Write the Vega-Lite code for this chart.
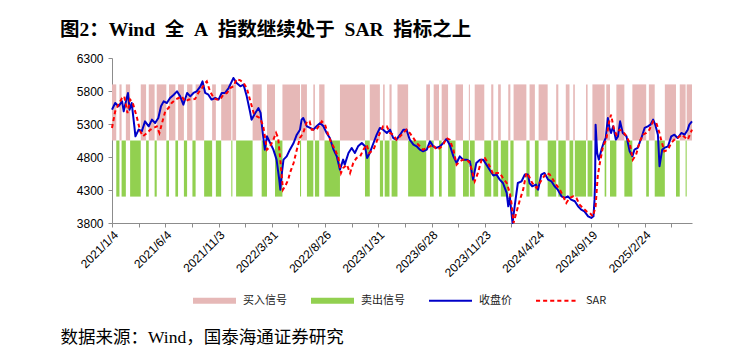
{
  "$schema": "https://vega.github.io/schema/vega-lite/v6.json",
  "autosize": "none",
  "width": 580,
  "height": 165,
  "padding": {"left": 112, "top": 58, "right": 52, "bottom": 129},
  "background": "white",
  "title": {
    "text": "图2：Wind\u2002全\u2002A\u2002指数继续处于\u2002SAR\u2002指标之上",
    "anchor": "start",
    "frame": "group",
    "dx": -52,
    "dy": 5,
    "offset": 17,
    "font": "Liberation Serif, Noto Sans CJK SC",
    "fontSize": 19.5,
    "fontWeight": "bold",
    "color": "black"
  },
  "config": {
    "view": {"stroke": null},
    "axis": {
      "labelFont": "Liberation Sans",
      "labelFontSize": 12,
      "labelColor": "black",
      "domainColor": "#8c8c8c",
      "tickColor": "#8c8c8c",
      "tickSize": 4,
      "grid": false,
      "labelOverlap": false
    }
  },
  "datasets": {
    "close": [
      {"i":0,"v":5517},{"i":6,"v":5618},{"i":12,"v":5568},{"i":19,"v":5643},{"i":22,"v":5492},{"i":27,"v":5670},{"i":30,"v":5770},{"i":33,"v":5517},{"i":37,"v":5618},{"i":42,"v":5265},{"i":44,"v":5113},{"i":50,"v":5215},{"i":56,"v":5190},{"i":62,"v":5340},{"i":69,"v":5265},{"i":75,"v":5366},{"i":81,"v":5315},{"i":87,"v":5391},{"i":92,"v":5568},{"i":97,"v":5643},{"i":103,"v":5618},{"i":109,"v":5694},{"i":116,"v":5744},{"i":122,"v":5795},{"i":128,"v":5719},{"i":134,"v":5593},{"i":141,"v":5770},{"i":147,"v":5719},{"i":153,"v":5770},{"i":159,"v":5795},{"i":166,"v":5871},{"i":170,"v":5946},{"i":175,"v":5770},{"i":181,"v":5744},{"i":187,"v":5670},{"i":194,"v":5694},{"i":200,"v":5670},{"i":206,"v":5770},{"i":212,"v":5770},{"i":219,"v":5845},{"i":225,"v":5946},{"i":228,"v":5997},{"i":234,"v":5921},{"i":241,"v":5871},{"i":247,"v":5896},{"i":253,"v":5719},{"i":259,"v":5492},{"i":262,"v":5366},{"i":269,"v":5467},{"i":275,"v":5542},{"i":279,"v":5467},{"i":283,"v":5164},{"i":287,"v":4911},{"i":291,"v":5113},{"i":297,"v":5012},{"i":303,"v":4911},{"i":309,"v":4760},{"i":314,"v":4457},{"i":316,"v":4305},{"i":319,"v":4558},{"i":322,"v":4760},{"i":328,"v":4810},{"i":334,"v":4911},{"i":341,"v":5012},{"i":347,"v":5138},{"i":353,"v":5214},{"i":356,"v":5366},{"i":359,"v":5391},{"i":366,"v":5265},{"i":372,"v":5240},{"i":378,"v":5214},{"i":384,"v":5265},{"i":391,"v":5315},{"i":397,"v":5265},{"i":403,"v":5164},{"i":409,"v":5088},{"i":416,"v":4911},{"i":422,"v":4810},{"i":428,"v":4608},{"i":434,"v":4760},{"i":437,"v":4684},{"i":444,"v":4861},{"i":450,"v":4937},{"i":456,"v":4861},{"i":462,"v":4962},{"i":469,"v":5012},{"i":475,"v":4962},{"i":479,"v":4785},{"i":484,"v":4861},{"i":491,"v":5012},{"i":497,"v":5138},{"i":503,"v":5240},{"i":509,"v":5214},{"i":516,"v":5164},{"i":522,"v":5214},{"i":528,"v":5088},{"i":534,"v":5063},{"i":541,"v":5138},{"i":547,"v":5214},{"i":553,"v":5214},{"i":559,"v":5063},{"i":566,"v":4987},{"i":572,"v":4962},{"i":578,"v":4911},{"i":584,"v":4886},{"i":591,"v":4911},{"i":597,"v":5037},{"i":603,"v":4962},{"i":609,"v":4937},{"i":616,"v":4962},{"i":622,"v":5012},{"i":628,"v":5073},{"i":634,"v":4987},{"i":641,"v":4810},{"i":647,"v":4709},{"i":653,"v":4810},{"i":659,"v":4760},{"i":666,"v":4760},{"i":672,"v":4734},{"i":678,"v":4457},{"i":684,"v":4709},{"i":691,"v":4760},{"i":697,"v":4760},{"i":703,"v":4684},{"i":709,"v":4608},{"i":716,"v":4520},{"i":722,"v":4533},{"i":728,"v":4457},{"i":734,"v":4406},{"i":741,"v":4255},{"i":744,"v":4053},{"i":747,"v":4204},{"i":750,"v":3952},{"i":752,"v":3800},{"i":756,"v":4053},{"i":762,"v":4406},{"i":769,"v":4432},{"i":775,"v":4533},{"i":781,"v":4533},{"i":784,"v":4406},{"i":789,"v":4356},{"i":796,"v":4381},{"i":800,"v":4305},{"i":806,"v":4533},{"i":812,"v":4558},{"i":819,"v":4457},{"i":825,"v":4432},{"i":831,"v":4356},{"i":837,"v":4305},{"i":844,"v":4204},{"i":850,"v":4179},{"i":856,"v":4204},{"i":862,"v":4154},{"i":869,"v":4129},{"i":875,"v":4053},{"i":881,"v":4002},{"i":887,"v":3977},{"i":894,"v":3901},{"i":900,"v":3876},{"i":904,"v":3901},{"i":906,"v":4150},{"i":907,"v":4400},{"i":908,"v":5290},{"i":911,"v":4861},{"i":914,"v":4760},{"i":919,"v":4911},{"i":923,"v":5012},{"i":927,"v":5088},{"i":931,"v":5391},{"i":934,"v":5240},{"i":937,"v":5164},{"i":941,"v":5265},{"i":946,"v":5063},{"i":950,"v":5113},{"i":954,"v":5340},{"i":959,"v":5164},{"i":966,"v":5113},{"i":972,"v":4886},{"i":977,"v":4810},{"i":981,"v":4911},{"i":987,"v":4937},{"i":994,"v":5088},{"i":1000,"v":5240},{"i":1006,"v":5265},{"i":1011,"v":5290},{"i":1016,"v":5366},{"i":1020,"v":5290},{"i":1025,"v":5138},{"i":1028,"v":4659},{"i":1033,"v":4911},{"i":1037,"v":4937},{"i":1044,"v":4962},{"i":1050,"v":5113},{"i":1056,"v":5138},{"i":1062,"v":5088},{"i":1069,"v":5164},{"i":1075,"v":5138},{"i":1081,"v":5214},{"i":1084,"v":5290},{"i":1089,"v":5340}
    ],
    "sar": [
      {"i":0,"v":5240},{"i":6,"v":5492},{"i":12,"v":5593},{"i":19,"v":5694},{"i":23,"v":5719},{"i":29,"v":5467},{"i":34,"v":5670},{"i":39,"v":5618},{"i":47,"v":5391},{"i":53,"v":5190},{"i":58,"v":5113},{"i":66,"v":5164},{"i":72,"v":5214},{"i":78,"v":5240},{"i":84,"v":5265},{"i":89,"v":5164},{"i":94,"v":5315},{"i":100,"v":5492},{"i":106,"v":5542},{"i":112,"v":5618},{"i":119,"v":5670},{"i":125,"v":5694},{"i":131,"v":5719},{"i":137,"v":5643},{"i":144,"v":5670},{"i":150,"v":5670},{"i":156,"v":5680},{"i":162,"v":5770},{"i":169,"v":5845},{"i":175,"v":5921},{"i":178,"v":5946},{"i":184,"v":5795},{"i":191,"v":5694},{"i":197,"v":5670},{"i":203,"v":5670},{"i":209,"v":5744},{"i":216,"v":5770},{"i":222,"v":5845},{"i":228,"v":5871},{"i":234,"v":5982},{"i":241,"v":5960},{"i":247,"v":5921},{"i":253,"v":5845},{"i":259,"v":5670},{"i":266,"v":5467},{"i":272,"v":5416},{"i":278,"v":5391},{"i":284,"v":5265},{"i":291,"v":4911},{"i":297,"v":4962},{"i":303,"v":5063},{"i":308,"v":5164},{"i":312,"v":5088},{"i":316,"v":4760},{"i":321,"v":4305},{"i":325,"v":4356},{"i":331,"v":4457},{"i":334,"v":4558},{"i":341,"v":4709},{"i":347,"v":4911},{"i":353,"v":5088},{"i":359,"v":5164},{"i":366,"v":5340},{"i":371,"v":5340},{"i":375,"v":5214},{"i":384,"v":5214},{"i":394,"v":5340},{"i":400,"v":5290},{"i":406,"v":5138},{"i":412,"v":5012},{"i":419,"v":4911},{"i":425,"v":4785},{"i":430,"v":4558},{"i":434,"v":4633},{"i":441,"v":4684},{"i":447,"v":4558},{"i":453,"v":4709},{"i":459,"v":4785},{"i":466,"v":4810},{"i":472,"v":4911},{"i":478,"v":4987},{"i":483,"v":4861},{"i":491,"v":4911},{"i":497,"v":5037},{"i":503,"v":5164},{"i":509,"v":5265},{"i":516,"v":5265},{"i":522,"v":5164},{"i":528,"v":5138},{"i":534,"v":5063},{"i":541,"v":5113},{"i":547,"v":5164},{"i":553,"v":5214},{"i":559,"v":5164},{"i":566,"v":5088},{"i":572,"v":5012},{"i":578,"v":4962},{"i":584,"v":4911},{"i":591,"v":4937},{"i":597,"v":4962},{"i":603,"v":4987},{"i":609,"v":4911},{"i":616,"v":4937},{"i":622,"v":4987},{"i":628,"v":5088},{"i":634,"v":5063},{"i":641,"v":4911},{"i":647,"v":4684},{"i":653,"v":4734},{"i":659,"v":4760},{"i":666,"v":4760},{"i":672,"v":4709},{"i":681,"v":4432},{"i":687,"v":4558},{"i":694,"v":4760},{"i":700,"v":4785},{"i":706,"v":4709},{"i":712,"v":4608},{"i":716,"v":4533},{"i":722,"v":4558},{"i":728,"v":4558},{"i":734,"v":4482},{"i":741,"v":4406},{"i":747,"v":4255},{"i":750,"v":4103},{"i":754,"v":3800},{"i":759,"v":3952},{"i":766,"v":4154},{"i":772,"v":4305},{"i":778,"v":4558},{"i":783,"v":4507},{"i":789,"v":4406},{"i":797,"v":4330},{"i":803,"v":4406},{"i":809,"v":4482},{"i":816,"v":4558},{"i":822,"v":4533},{"i":828,"v":4457},{"i":834,"v":4381},{"i":841,"v":4305},{"i":847,"v":4204},{"i":853,"v":4103},{"i":859,"v":4179},{"i":866,"v":4204},{"i":872,"v":4179},{"i":878,"v":4078},{"i":884,"v":4027},{"i":891,"v":3977},{"i":897,"v":3952},{"i":903,"v":3901},{"i":908,"v":4053},{"i":912,"v":4507},{"i":916,"v":4709},{"i":922,"v":4962},{"i":928,"v":5063},{"i":933,"v":5315},{"i":937,"v":5441},{"i":942,"v":5240},{"i":947,"v":5138},{"i":953,"v":5214},{"i":959,"v":5190},{"i":966,"v":5113},{"i":972,"v":5012},{"i":978,"v":4760},{"i":984,"v":4836},{"i":991,"v":5037},{"i":997,"v":5138},{"i":1003,"v":5164},{"i":1009,"v":5214},{"i":1016,"v":5340},{"i":1022,"v":5315},{"i":1027,"v":5190},{"i":1031,"v":5063},{"i":1037,"v":4886},{"i":1044,"v":4911},{"i":1050,"v":5012},{"i":1056,"v":5063},{"i":1062,"v":5088},{"i":1069,"v":5138},{"i":1075,"v":5102},{"i":1081,"v":5063},{"i":1089,"v":5214}
    ],
    "sig": [
      {"s":0,"e":8,"t":"买入信号"},{"s":8,"e":14,"t":"卖出信号"},{"s":14,"e":18,"t":"买入信号"},{"s":18,"e":26,"t":"卖出信号"},{"s":26,"e":34,"t":"买入信号"},{"s":34,"e":54,"t":"卖出信号"},{"s":54,"e":64,"t":"买入信号"},{"s":64,"e":69,"t":"卖出信号"},{"s":69,"e":80,"t":"买入信号"},{"s":80,"e":84,"t":"卖出信号"},{"s":84,"e":102,"t":"买入信号"},{"s":102,"e":107,"t":"卖出信号"},{"s":107,"e":119,"t":"买入信号"},{"s":119,"e":124,"t":"卖出信号"},{"s":124,"e":135,"t":"买入信号"},{"s":135,"e":141,"t":"卖出信号"},{"s":141,"e":151,"t":"买入信号"},{"s":151,"e":157,"t":"卖出信号"},{"s":157,"e":173,"t":"买入信号"},{"s":173,"e":188,"t":"卖出信号"},{"s":188,"e":195,"t":"买入信号"},{"s":195,"e":205,"t":"卖出信号"},{"s":205,"e":224,"t":"买入信号"},{"s":224,"e":226,"t":"卖出信号"},{"s":226,"e":233,"t":"买入信号"},{"s":233,"e":264,"t":"卖出信号"},{"s":264,"e":281,"t":"买入信号"},{"s":281,"e":291,"t":"卖出信号"},{"s":291,"e":306,"t":"买入信号"},{"s":306,"e":320,"t":"卖出信号"},{"s":320,"e":353,"t":"买入信号"},{"s":353,"e":355,"t":"卖出信号"},{"s":355,"e":366,"t":"买入信号"},{"s":366,"e":378,"t":"卖出信号"},{"s":378,"e":381,"t":"买入信号"},{"s":381,"e":389,"t":"卖出信号"},{"s":389,"e":399,"t":"买入信号"},{"s":399,"e":428,"t":"卖出信号"},{"s":428,"e":475,"t":"买入信号"},{"s":475,"e":484,"t":"卖出信号"},{"s":484,"e":503,"t":"买入信号"},{"s":503,"e":509,"t":"卖出信号"},{"s":509,"e":512,"t":"买入信号"},{"s":512,"e":521,"t":"卖出信号"},{"s":521,"e":525,"t":"买入信号"},{"s":525,"e":536,"t":"卖出信号"},{"s":536,"e":556,"t":"买入信号"},{"s":556,"e":590,"t":"卖出信号"},{"s":590,"e":597,"t":"买入信号"},{"s":597,"e":604,"t":"卖出信号"},{"s":604,"e":614,"t":"买入信号"},{"s":614,"e":619,"t":"卖出信号"},{"s":619,"e":631,"t":"买入信号"},{"s":631,"e":645,"t":"卖出信号"},{"s":645,"e":659,"t":"买入信号"},{"s":659,"e":670,"t":"卖出信号"},{"s":670,"e":672,"t":"买入信号"},{"s":672,"e":681,"t":"卖出信号"},{"s":681,"e":699,"t":"买入信号"},{"s":699,"e":712,"t":"卖出信号"},{"s":712,"e":716,"t":"买入信号"},{"s":716,"e":725,"t":"卖出信号"},{"s":725,"e":730,"t":"买入信号"},{"s":730,"e":744,"t":"卖出信号"},{"s":744,"e":748,"t":"买入信号"},{"s":748,"e":754,"t":"卖出信号"},{"s":754,"e":778,"t":"买入信号"},{"s":778,"e":784,"t":"卖出信号"},{"s":784,"e":794,"t":"买入信号"},{"s":794,"e":801,"t":"卖出信号"},{"s":801,"e":818,"t":"买入信号"},{"s":818,"e":834,"t":"卖出信号"},{"s":834,"e":838,"t":"买入信号"},{"s":838,"e":852,"t":"卖出信号"},{"s":852,"e":859,"t":"买入信号"},{"s":859,"e":866,"t":"卖出信号"},{"s":866,"e":869,"t":"买入信号"},{"s":869,"e":890,"t":"卖出信号"},{"s":890,"e":893,"t":"买入信号"},{"s":893,"e":902,"t":"卖出信号"},{"s":902,"e":925,"t":"买入信号"},{"s":925,"e":928,"t":"卖出信号"},{"s":928,"e":935,"t":"买入信号"},{"s":935,"e":947,"t":"卖出信号"},{"s":947,"e":962,"t":"买入信号"},{"s":962,"e":977,"t":"卖出信号"},{"s":977,"e":1003,"t":"买入信号"},{"s":1003,"e":1008,"t":"卖出信号"},{"s":1008,"e":1019,"t":"买入信号"},{"s":1019,"e":1038,"t":"卖出信号"},{"s":1038,"e":1059,"t":"买入信号"},{"s":1059,"e":1066,"t":"卖出信号"},{"s":1066,"e":1077,"t":"买入信号"},{"s":1077,"e":1079,"t":"卖出信号"},{"s":1079,"e":1089,"t":"买入信号"}
    ]
  },
  "layer": [
    {
      "data": {"name": "sig"},
      "transform": [{"filter": "datum.t == '买入信号'"}],
      "mark": {"type": "bar"},
      "encoding": {
        "x": {
          "field": "s", "type": "quantitative",
          "scale": {"domain": [0, 1089], "nice": false, "zero": false},
          "axis": {
            "values": [0,50,100,150,200,250,300,350,400,450,500,550,600,650,700,750,800,850,900,950,1000,1050],
            "tickCount": 40,
            "labelExpr": "datum.value % 100 == 0 ? ['2021/1/4','2021/6/4','2021/11/3','2022/3/31','2022/8/26','2023/1/31','2023/6/28','2023/11/23','2024/4/24','2024/9/19','2025/2/24'][datum.value/100] : ''",
            "labelAngle": -45,
            "labelOverlap": false,
            "labelBound": false,
            "labelFlush": false,
            "labelPadding": 2,
            "title": "数据来源：Wind，国泰海通证券研究",
            "titleFont": "Liberation Serif, Noto Sans CJK SC",
            "titleFontSize": 17.5,
            "titleFontWeight": "normal",
            "titleColor": "black",
            "titleAnchor": "start",
            "titleAlign": "left",
            "titleBaseline": "middle",
            "titleX": -52,
            "titleY": 114
          }
        },
        "x2": {"field": "e"},
        "y": {
          "datum": 5900, "type": "quantitative",
          "scale": {"domain": [3800, 6300], "nice": false, "zero": false},
          "axis": {"values": [3800,4300,4800,5300,5800,6300], "tickCount": 12, "format": "d", "labelOverlap": false, "title": null, "labelPadding": 5}
        },
        "y2": {"datum": 5050},
        "color": {
          "field": "t", "type": "nominal",
          "scale": {"domain": ["买入信号","卖出信号","收盘价","SAR"], "range": ["#E6B8B7","#92D050","#0000C8","#FF0000"]},
          "legend": {
            "orient": "none",
            "legendX": 81,
            "legendY": 221,
            "direction": "horizontal",
            "title": null,
            "symbolType": "square",
            "symbolSize": 1849,
            "symbolStrokeWidth": 0,
            "labelFont": "Noto Sans CJK SC",
            "labelFontSize": 11,
            "labelColor": "#222",
            "labelOffset": 7,
            "columnPadding": 24,
            "labelLimit": 200,
            "encode": {
              "symbols": {
                "update": {
                  "size": {"value": 1849},
                  "strokeWidth": {"value": 0},
                  "stroke": {"value": "transparent"},
                  "opacity": {"value": 1},
                  "fillOpacity": {"value": 1},
                  "fill": {"signal": "datum.value == '买入信号' ? '#E6B8B7' : datum.value == '卖出信号' ? '#92D050' : datum.value == '收盘价' ? '#0000C8' : '#FF0000'"},
                  "shape": {"signal": "datum.value == 'SAR' ? 'M-1,-0.05H-0.81V0.05H-1Z M-0.67,-0.05H-0.48V0.05H-0.67Z M-0.34,-0.05H-0.15V0.05H-0.34Z M-0.01,-0.05H0.18V0.05H-0.01Z M0.32,-0.05H0.51V0.05H0.32Z M0.65,-0.05H0.84V0.05H0.65Z' : datum.value == '收盘价' ? 'M-1,-0.05H1V0.05H-1Z' : 'M-1,-0.14H1V0.14H-1Z'"}
                }
              }
            }
          }
        }
      }
    },
    {
      "data": {"name": "sig"},
      "transform": [{"filter": "datum.t == '卖出信号'"}],
      "mark": {"type": "bar"},
      "encoding": {
        "x": {"field": "s", "type": "quantitative"},
        "x2": {"field": "e"},
        "y": {"datum": 5050, "type": "quantitative"},
        "y2": {"datum": 4200},
        "color": {"field": "t", "type": "nominal"}
      }
    },
    {
      "data": {"name": "close"},
      "mark": {"type": "line", "strokeWidth": 2, "strokeJoin": "round"},
      "encoding": {
        "x": {"field": "i", "type": "quantitative"},
        "y": {"field": "v", "type": "quantitative"},
        "color": {"datum": "收盘价"}
      }
    },
    {
      "data": {"name": "sar"},
      "mark": {"type": "line", "strokeWidth": 2, "strokeDash": [4, 3]},
      "encoding": {
        "x": {"field": "i", "type": "quantitative"},
        "y": {"field": "v", "type": "quantitative"},
        "color": {"datum": "SAR"}
      }
    }
  ]
}
